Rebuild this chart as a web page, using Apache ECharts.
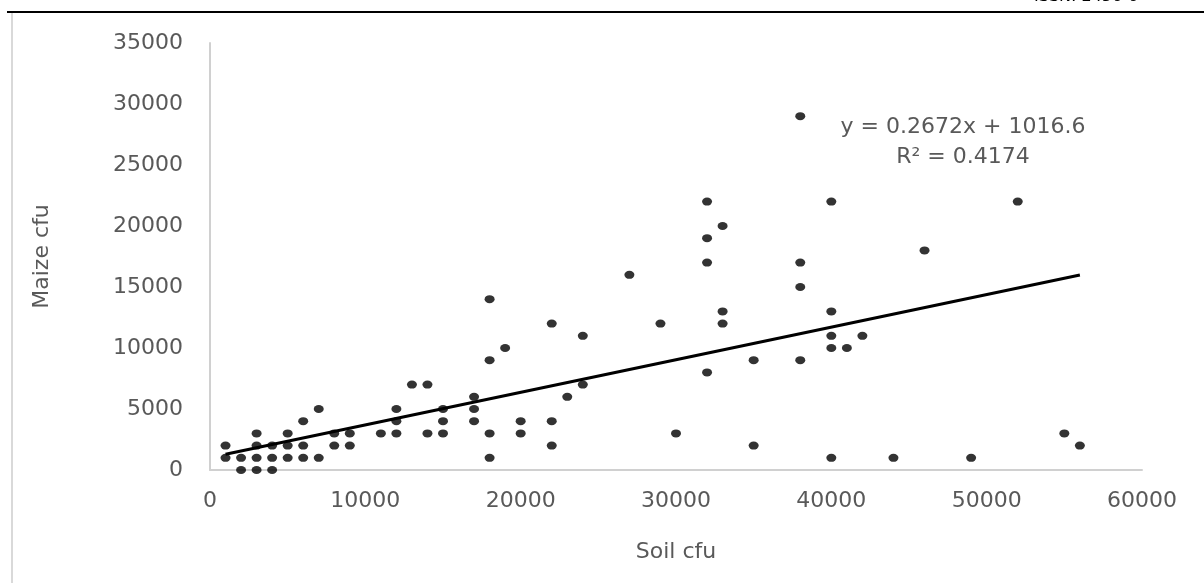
<!DOCTYPE html>
<html>
<head>
<meta charset="utf-8">
<script src="https://cdn.jsdelivr.net/npm/echarts@6/dist/echarts.min.js"></script>
<style>
  html, body { margin: 0; padding: 0; background: #fff; }
  #main { width: 1204px; height: 583px; }
</style>
</head>
<body>
<div id="main"></div>
<script>
// 土壤 cfu 与玉米 cfu 散点
const soilCfu = [
  1000, 1000, 2000, 2000, 3000, 3000, 3000, 3000, 4000, 4000, 4000,
  5000, 5000, 5000, 6000, 6000, 6000, 7000, 7000, 8000, 8000, 9000, 9000,
  11000, 12000, 12000, 12000, 13000, 14000, 14000, 15000, 15000, 15000,
  17000, 17000, 17000, 18000, 18000, 18000, 18000, 19000, 20000, 20000,
  22000, 22000, 22000, 23000, 24000, 24000, 27000, 29000, 30000,
  32000, 32000, 32000, 32000, 33000, 33000, 33000, 35000, 35000,
  38000, 38000, 38000, 38000, 40000, 40000, 40000, 40000, 40000,
  41000, 42000, 44000, 46000, 49000, 52000, 55000, 56000
]
const maizeCfu = [
  2000, 1000, 1000, 0, 3000, 2000, 1000, 0, 2000, 1000, 0,
  3000, 2000, 1000, 4000, 2000, 1000, 5000, 1000, 3000, 2000, 3000, 2000,
  3000, 5000, 4000, 3000, 7000, 7000, 3000, 5000, 4000, 3000,
  6000, 5000, 4000, 14000, 9000, 3000, 1000, 10000, 4000, 3000,
  12000, 4000, 2000, 6000, 11000, 7000, 16000, 12000, 3000,
  22000, 19000, 17000, 8000, 20000, 13000, 12000, 9000, 2000,
  29000, 17000, 15000, 9000, 22000, 13000, 11000, 10000, 1000,
  10000, 11000, 1000, 18000, 1000, 22000, 3000, 2000
]
// 趋势线 y = 0.2672x + 1016.6
const trendSlope = 0.2672
const trendIntercept = 1016.6
const trendRange = [1000, 56000]
const xTicks = [0, 10000, 20000, 30000, 40000, 50000, 60000]
const yTicks = [0, 5000, 10000, 15000, 20000, 25000, 30000, 35000]

const points = soilCfu.map((x, i) => [x, maizeCfu[i]])
const trendData = trendRange.map(x => [x, trendSlope * x + trendIntercept])

const font = 'DejaVu Sans'
const textColor = '#595959'
const axisLineColor = '#d0d0d0'

const myChart = echarts.init(document.getElementById('main'))
myChart.setOption({
  animation: false,
  textStyle: { fontFamily: font },
  grid: { left: 210, right: 62, top: 43, bottom: 113 },
  xAxis: {
    type: 'value',
    min: xTicks[0],
    max: xTicks[xTicks.length - 1],
    interval: 10000,
    name: 'Soil cfu',
    nameLocation: 'middle',
    nameGap: 71,
    nameTextStyle: { color: textColor, fontSize: 22, fontFamily: font },
    axisLine: { lineStyle: { color: axisLineColor, width: 2 } },
    axisTick: { show: false },
    splitLine: { show: false },
    axisLabel: { color: textColor, fontSize: 22, margin: 20, fontFamily: font, formatter: v => String(v) }
  },
  yAxis: {
    type: 'value',
    min: yTicks[0],
    max: yTicks[yTicks.length - 1],
    interval: 5000,
    name: 'Maize cfu',
    nameLocation: 'middle',
    nameGap: 157,
    nameTextStyle: { color: textColor, fontSize: 22, fontFamily: font },
    axisLine: { show: true, lineStyle: { color: axisLineColor, width: 2 } },
    axisTick: { show: false },
    splitLine: { show: false },
    axisLabel: { color: textColor, fontSize: 22, margin: 27, fontFamily: font, formatter: v => String(v) }
  },
  graphic: [
    { type: 'line', shape: { x1: 7, y1: 12, x2: 1204, y2: 12 }, style: { stroke: '#000', lineWidth: 2 } },
    { type: 'line', shape: { x1: 12, y1: 13, x2: 12, y2: 583 }, style: { stroke: '#d9d9d9', lineWidth: 2 } },
    {
      type: 'text', x: 1034, y: 5,
      style: { text: 'ISSN: 2456-6', fill: '#000', verticalAlign: 'bottom', font: '16px "DejaVu Sans"' }
    },
    {
      type: 'text', x: 963, y: 127,
      style: {
        text: 'y = 0.2672x + 1016.6', fill: textColor, align: 'center', verticalAlign: 'middle',
        font: '22px "DejaVu Sans"'
      }
    },
    {
      type: 'text', x: 963, y: 157,
      style: {
        text: 'R² = 0.4174', fill: textColor, align: 'center', verticalAlign: 'middle',
        font: '22px "DejaVu Sans"'
      }
    }
  ],
  series: [{
    type: 'scatter',
    data: points,
    symbol: 'circle',
    symbolSize: [10, 8],
    itemStyle: { color: '#000' }
  }, {
    type: 'line',
    data: trendData,
    symbol: 'none',
    lineStyle: { color: '#000', width: 3 },
    z: 3
  }]
})
</script>
</body>
</html>
